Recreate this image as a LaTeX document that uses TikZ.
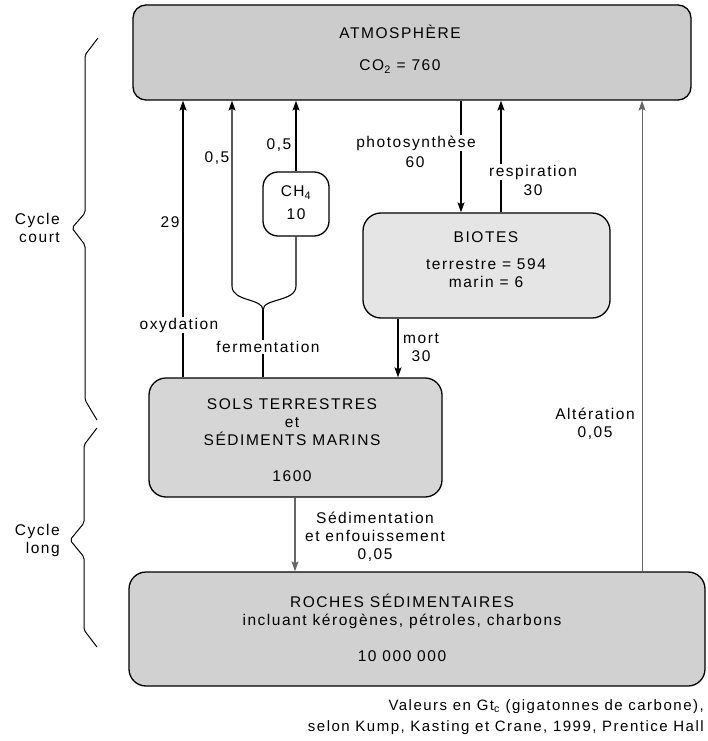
\documentclass[tikz,border=0pt]{standalone}
\usepackage{fontspec}
\setmainfont{Liberation Sans}[LetterSpace=10]
\usetikzlibrary{arrows.meta}
\definecolor{fondatm}{gray}{0.80}
\definecolor{fondbio}{gray}{0.90}
\definecolor{fondsol}{gray}{0.84}
\definecolor{fondroc}{gray}{0.82}
\tikzset{
  boite/.style={draw,line width=1.3pt,rounded corners=15pt,inner sep=0pt},
  flux/.style={line width=1.1pt,-{Stealth[length=10pt,width=7pt,inset=2pt]}},
  trait/.style={line width=1.1pt},
  etiq/.style={inner sep=1pt,align=center},
  cache/.style={etiq,fill=white},
  acco/.style={line width=1pt,rounded corners=2pt}
}

\begin{document}
\begin{tikzpicture}[x=1pt,y=-1pt,font=\fontsize{15.5}{18}\selectfont]
\useasboundingbox (0,0) rectangle (707,741);
% reservoirs
\node[boite,fill=fondatm,minimum width=558pt,minimum height=95pt,rounded corners=13pt] (atm) at (412,52.5) {};
\node[boite,fill=white,minimum width=66pt,minimum height=64pt] (ch4) at (296,204) {};
\node[boite,fill=fondbio,minimum width=247pt,minimum height=105pt,rounded corners=18pt] (biotes) at (486.5,265.5) {};
\node[boite,fill=fondsol,minimum width=293pt,minimum height=119pt,rounded corners=17pt] (sols) at (295.5,437.5) {};
\node[boite,fill=fondroc,minimum width=576pt,minimum height=114pt,rounded corners=17pt] (roches) at (417,629) {};
\node[etiq] (tatm) at (400,49) {ATMOSPHÈRE\\[14pt]CO\textsubscript{2} = 760};
\node[etiq] (tch4) at (296,203) {CH\textsubscript{4}\\[5pt]10};
\node[etiq] (tbio) at (486,260) {BIOTES\\[9pt]terrestre = 594\\marin = 6};
\node[etiq] (tsol) at (292,440) {SOLS TERRESTRES\\et\\SÉDIMENTS MARINS\\[18pt]1600};
\node[etiq] (troc) at (402,628) {ROCHES SÉDIMENTAIRES\\incluant kérogènes, pétroles, charbons\\[18pt]10 000 000};
% abscisses des flux
\coordinate (xox) at (183,0);
\coordinate (xfg) at (232,0);
\coordinate (xch) at (296,0);
\coordinate (xfe) at (263,0);
\coordinate (xph) at (461,0);
\coordinate (xre) at (501,0);
\coordinate (xmo) at (398,0);
\coordinate (xse) at (295,0);
\coordinate (xal) at (642,0);
\coordinate (fourche) at (263,310);
% flux
\draw[flux] (sols.north -| xox) -- (atm.south -| xox);
\draw[trait] (sols.north -| xfe) -- (fourche);
\draw[flux] (fourche) .. controls (263,298) and (232,302) .. (232,286) -- (atm.south -| xfg);
\draw[trait] (fourche) .. controls (263,298) and (296,302) .. (296,286) -- (ch4.south);
\draw[flux] (ch4.north) -- (atm.south -| xch);
\draw[flux] (atm.south -| xph) -- (biotes.north -| xph);
\draw[flux] (biotes.north -| xre) -- (atm.south -| xre);
\draw[flux] (biotes.south -| xmo) -- (sols.north -| xmo);
\draw[flux,black!60] (sols.south -| xse) -- (roches.north -| xse);
\draw[flux,black!60,line width=0.9pt] (roches.north -| xal) -- (atm.south -| xal);
% etiquettes
\node[etiq] (l29) at (170,222) {29};
\node[etiq] (lfg) at (217,158) {0,5};
\node[etiq] (lch) at (279,145) {0,5};
\node[cache] (lox) at (179,325) {oxydation};
\node[cache] (lfe) at (268,347) {fermentation};
\node[cache] (lph) at (416,143) {photosynthèse};
\node[etiq] (lph2) at (415,162) {60};
\node[cache] (lre) at (533,172) {respiration};
\node[etiq] (lre2) at (533,190) {30};
\node[etiq] (lmo) at (421,348) {mort\\30};
\node[etiq] (lse) at (375,537) {Sédimentation\\et enfouissement\\0,05};
\node[etiq] (lal) at (595,424) {Altération\\0,05};
% accolades
\draw[acco] (98,38) -- (85,55) -- (85,213) -- (72,228) -- (85,245) -- (85,400) -- (97,420);
\draw[acco] (97,428) -- (84,445) -- (84,523) -- (70,540) -- (84,557) -- (84,630) -- (97,647);
\node[etiq,align=right,anchor=east] (court) at (61,228) {Cycle\\court};
\node[etiq,align=right,anchor=east] (long) at (61,540) {Cycle\\long};
% source
\node[etiq,align=right,anchor=east,font=\fontsize{15}{18}\selectfont] (source) at (705,717) {Valeurs en Gt\textsubscript{c} (gigatonnes de carbone),\\[3pt]selon Kump, Kasting et Crane, 1999, Prentice Hall};
\end{tikzpicture}
\end{document}
